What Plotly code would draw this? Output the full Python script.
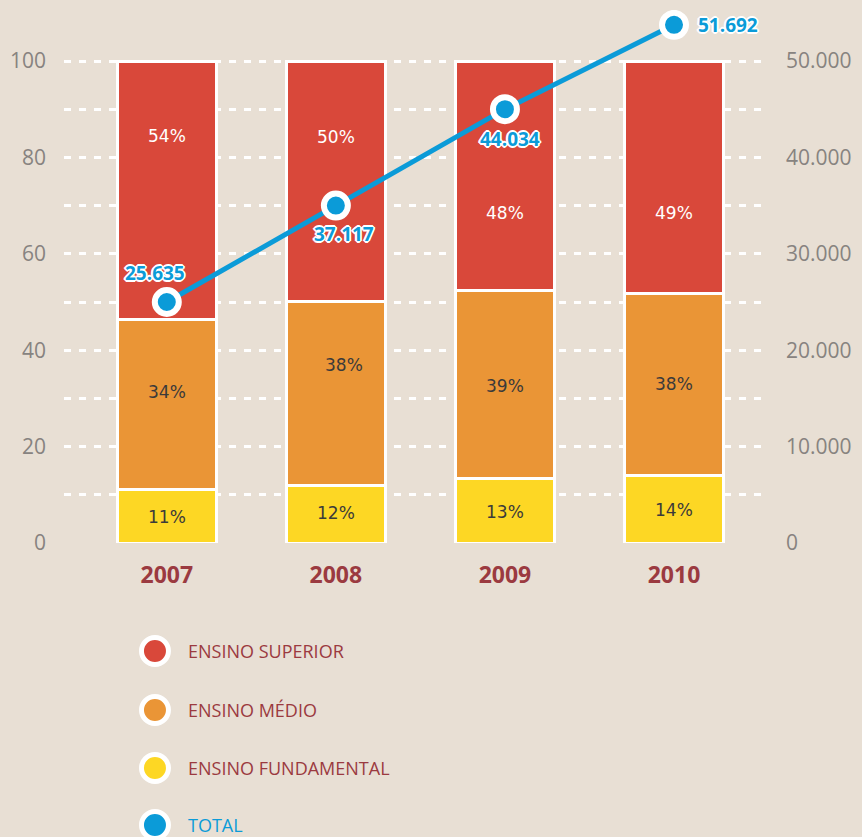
import plotly.graph_objects as go

years = ["2007", "2008", "2009", "2010"]
fundamental = [11, 12, 13.3, 14.1]
medio = [35.3, 38.2, 39.0, 37.6]
superior = [53.7, 49.8, 47.7, 48.3]
fund_labels = ["11%", "12%", "13%", "14%"]
medio_labels = ["34%", "38%", "39%", "38%"]
sup_labels = ["54%", "50%", "48%", "49%"]
total_pos = [25000, 35000, 45000, 53750]
total_labels = ["25.635", "37.117", "44.034", "51.692"]
left_ticks = [0, 10, 20, 30, 40, 50, 60, 70, 80, 90, 100]
left_ticktext = ["0", "", "20", "", "40", "", "60", "", "80", "", "100"]
right_ticks = [0, 10000, 20000, 30000, 40000, 50000]
right_ticktext = ["0", "10.000", "20.000", "30.000", "40.000", "50.000"]
legend_names = ["ENSINO SUPERIOR", "ENSINO MÉDIO", "ENSINO FUNDAMENTAL", "TOTAL"]

RED = "#d9483a"
ORANGE = "#ea9536"
YELLOW = "#fdd724"
BLUE = "#0b9bd8"
BG = "#e8dfd4"
DARKRED = "#9b3a40"
GRAY = "#878380"
DARKTXT = "#3b3a3a"
FONT = "Open Sans"
LABFONT = "DejaVu Sans"

# placement of the in-bar labels (pixel rows in the layout, converted below)
PLOT_TOP, PLOT_BOTTOM, PLOT_LEFT, PLOT_RIGHT = 10, 543, 61, 772
Y_MAX = 110.58
px_per_unit = (PLOT_BOTTOM - PLOT_TOP) / Y_MAX
sup_label_rows = [136, 137, 213, 213]
med_label_rows = [392, 365, 386, 384]
fund_label_rows = [517, 513, 512, 510]
med_label_xshift = [0, 8, 0, 0]

x = list(range(len(years)))
fig = go.Figure()

for vals, col in [(fundamental, YELLOW), (medio, ORANGE), (superior, RED)]:
    fig.add_trace(go.Bar(
        x=x, y=vals,
        marker=dict(color=col, line=dict(color="white", width=3)),
        width=0.585, showlegend=False, hoverinfo="skip",
    ))

fig.add_trace(go.Scatter(
    x=x, y=total_pos, yaxis="y2", mode="lines+markers",
    line=dict(color=BLUE, width=5),
    marker=dict(size=24, color=BLUE, line=dict(color="white", width=6)),
    showlegend=False, hoverinfo="skip",
))

annotations = []
for labels, rows, tcol, xs in [
    (fund_labels, fund_label_rows, DARKTXT, [0, 0, 0, 0]),
    (medio_labels, med_label_rows, DARKTXT, med_label_xshift),
    (sup_labels, sup_label_rows, "#ffffff", [0, 0, 0, 0]),
]:
    for xi, lab, r, dx in zip(x, labels, rows, xs):
        annotations.append(dict(
            x=xi, y=(PLOT_BOTTOM - r) / px_per_unit, xref="x", yref="y",
            text=lab, showarrow=False, xshift=dx,
            font=dict(family=LABFONT, size=17, color=tcol),
        ))

shadow = ("2px 0 0 #fff, -2px 0 0 #fff, 0 2px 0 #fff, 0 -2px 0 #fff, "
          "1px 1px 0 #fff, -1px -1px 0 #fff, 1px -1px 0 #fff, -1px 1px 0 #fff")
shifts = [(-12, 29), (8, -28), (5, -30), (54, 0)]
for xi, yv, lab, (dx, dy) in zip(x, total_pos, total_labels, shifts):
    annotations.append(dict(
        x=xi, y=yv, xref="x", yref="y2", text="<b>" + lab + "</b>",
        showarrow=False, xshift=dx, yshift=dy,
        font=dict(family=FONT, size=19, color=BLUE, shadow=shadow),
    ))

# legend (drawn manually)
leg_colors = [RED, ORANGE, YELLOW, BLUE]
leg_text_colors = [DARKRED, DARKRED, DARKRED, BLUE]
leg_py = [651, 710, 768, 825]
pw = PLOT_RIGHT - PLOT_LEFT
ph = PLOT_BOTTOM - PLOT_TOP
shapes = []
for name, col, tcol, py in zip(legend_names, leg_colors, leg_text_colors, leg_py):
    yy = (PLOT_BOTTOM - py) / ph
    shapes.append(dict(
        type="circle", xref="paper", yref="paper",
        xsizemode="pixel", ysizemode="pixel",
        xanchor=(153 - PLOT_LEFT) / pw, yanchor=yy,
        x0=-13.5, x1=13.5, y0=-13.5, y1=13.5,
        fillcolor=col, line=dict(color="white", width=5),
    ))
    annotations.append(dict(
        x=(184 - PLOT_LEFT) / pw, y=yy, xref="paper", yref="paper",
        xanchor="left", yanchor="middle", text=name, showarrow=False,
        font=dict(family=FONT, size=18, color=tcol),
    ))

fig.update_layout(
    width=862, height=837,
    margin=dict(l=PLOT_LEFT, r=862 - PLOT_RIGHT, t=PLOT_TOP, b=837 - PLOT_BOTTOM),
    paper_bgcolor=BG, plot_bgcolor=BG,
    barmode="stack", showlegend=False,
    annotations=annotations, shapes=shapes,
    xaxis=dict(
        range=[-0.608, 3.55], tickvals=x, ticktext=years,
        tickfont=dict(family=FONT, size=23, color=DARKRED, weight="bold"),
        showgrid=False, zeroline=False, showline=False, ticks="",
        ticklabelstandoff=16,
    ),
    yaxis=dict(
        range=[0, Y_MAX], tickvals=left_ticks, ticktext=left_ticktext,
        tickfont=dict(family=FONT, size=21, color=GRAY),
        showgrid=True, gridcolor="white", gridwidth=3, griddash="7px,8px",
        zeroline=False, showline=False, ticks="", ticklabelstandoff=17,
    ),
    yaxis2=dict(
        range=[0, Y_MAX * 500], overlaying="y", side="right",
        tickvals=right_ticks, ticktext=right_ticktext,
        tickfont=dict(family=FONT, size=21, color=GRAY),
        showgrid=False, zeroline=False, showline=False, ticks="",
        ticklabelstandoff=18,
    ),
)

fig.write_html(
    "out.html",
    config={"displayModeBar": False},
    post_script="document.body.style.margin='0';document.body.style.background='#e8dfd4';",
)
